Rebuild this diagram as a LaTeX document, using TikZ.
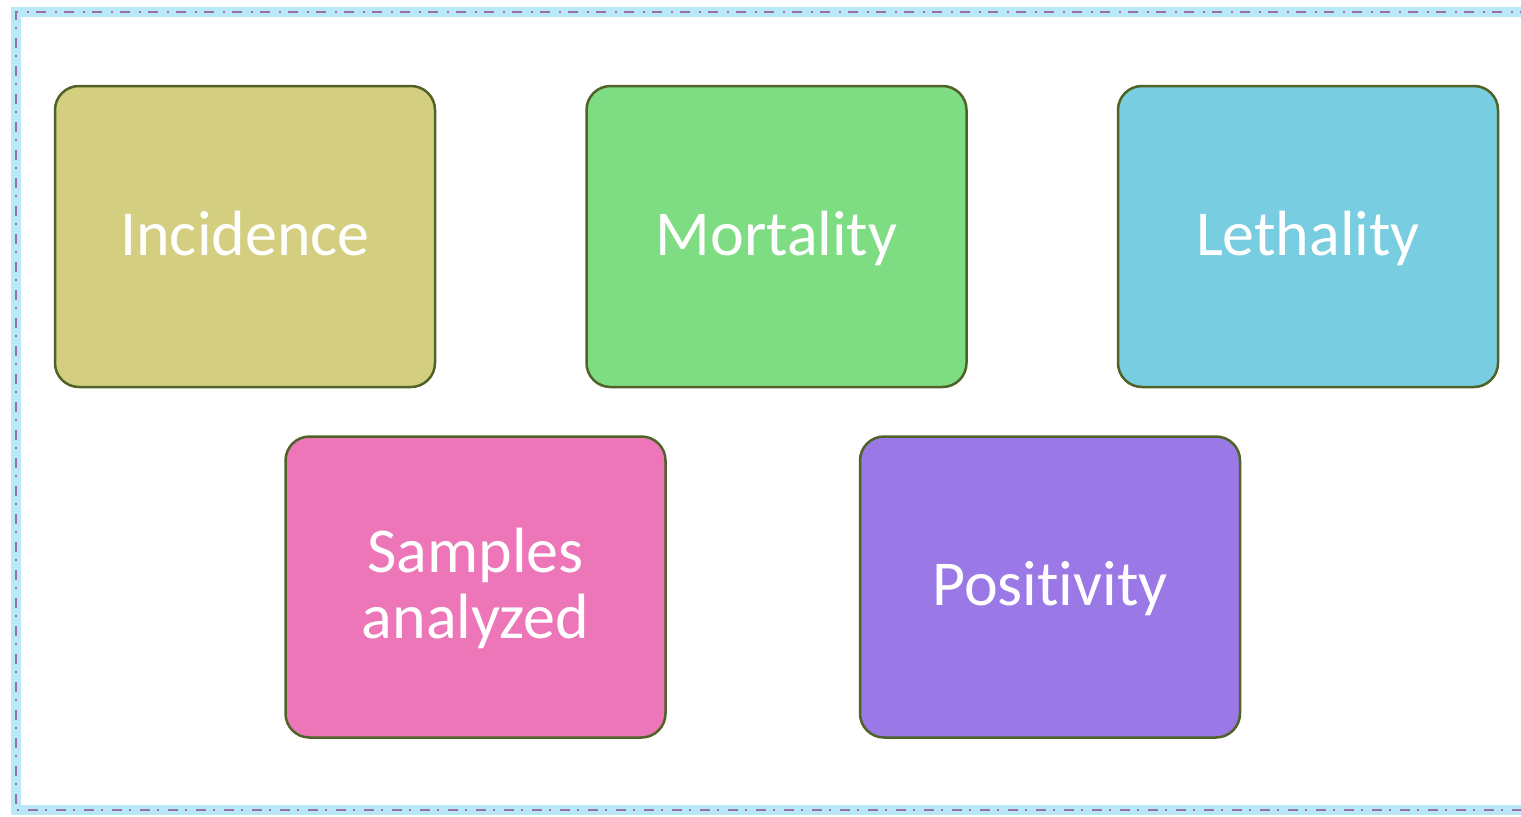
\documentclass[tikz,border=0pt]{standalone}
\usepackage{fontspec}
\setmainfont{Carlito}[Ligatures={NoCommon}]
\usetikzlibrary{positioning}

\definecolor{incfill}{HTML}{D4CF80}
\definecolor{mortfill}{HTML}{7EDC82}
\definecolor{lethfill}{HTML}{78CDE0}
\definecolor{sampfill}{HTML}{EC76B8}
\definecolor{posfill}{HTML}{9A78E6}
\definecolor{boxline}{HTML}{4F6228}
\definecolor{framelink}{HTML}{9B6FAE}
\definecolor{glowblue}{HTML}{A8E2F4}

\begin{document}
\begin{tikzpicture}[
    x=0.5pt, y=-0.5pt,
    node distance=74.5pt,
    card/.style={rectangle, rounded corners=12pt, draw=boxline, line width=1.25pt,
      minimum width=190pt, minimum height=150.5pt, inner sep=0pt, align=center,
      text=white, font=\fontsize{32pt}{33pt}\selectfont},
    lbl/.style={yshift=-2.75pt},
    glow/.style={draw=glowblue, line width=5pt, opacity=0.8},
    frameline/.style={draw=framelink, line width=1.3pt,
      dash pattern=on 5pt off 3.5pt on 1pt off 4.5pt}
  ]
    \useasboundingbox (0,0) rectangle (1521,816);
    % outer frame, open on the right
    \coordinate (ftr) at (1530,12);
    \coordinate (ftl) at (16,12);
    \coordinate (fbl) at (16,810);
    \coordinate (fbr) at (1530,810);
    \draw[glow] (ftr) -- (ftl) -- (fbl) -- (fbr);
    \draw[frameline] (ftr) -- (ftl) -- (fbl) -- (fbr);

    % top row
    \node[card, fill=incfill] (inc) at (245,236.5) {};
    \node[card, fill=mortfill, right=of inc] (mort) {};
    \node[card, fill=lethfill, right=of mort] (leth) {};
    % bottom row
    \node[card, fill=sampfill] (samp) at (475.5,587) {};
    \node[card, fill=posfill] (pos) at (1050,587) {};

    % labels
    \node[card, draw=none, lbl] (inctext) at (inc) {\strut Incidence};
    \node[card, draw=none, lbl] (morttext) at (mort) {\strut Mortality};
    \node[card, draw=none, lbl] (lethtext) at (leth) {\strut Lethality};
    \node[card, draw=none, lbl] (samptext) at (samp) {\strut Samples\\\strut analyzed};
    \node[card, draw=none, lbl] (postext) at (pos) {\strut Positivity};
\end{tikzpicture}
\end{document}
